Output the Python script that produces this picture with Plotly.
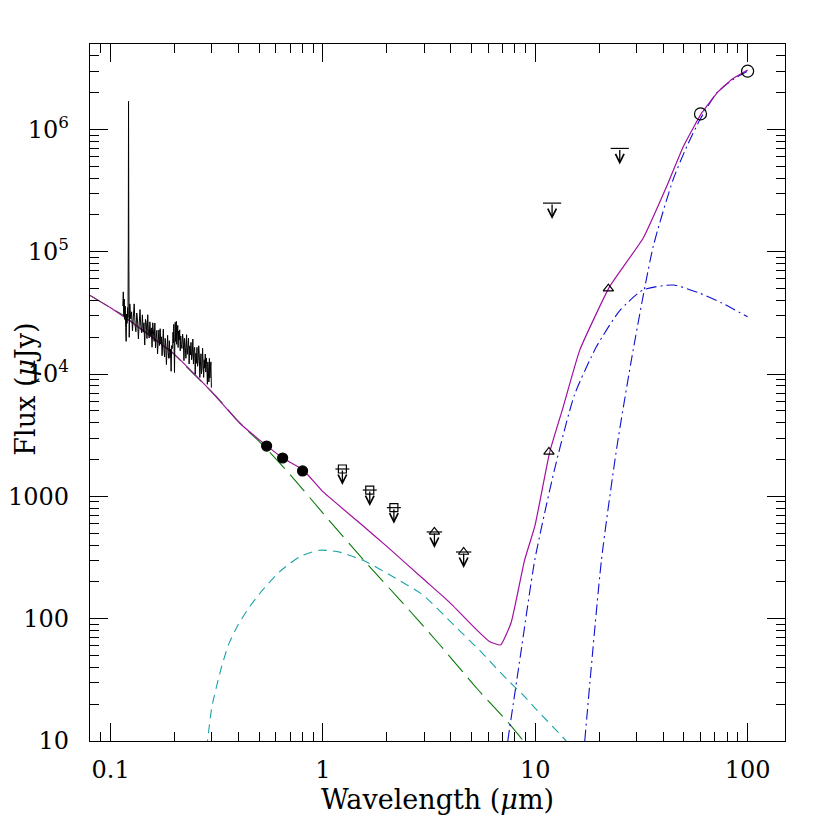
import math

import plotly.graph_objects as go

# observed UV spectrum (micron, microJy)
spec_wave = [
    0.1142, 0.1148, 0.1154, 0.1160, 0.1166, 0.1172, 0.1178, 0.1184, 0.1190, 0.1196,
    0.1202, 0.1208, 0.1212, 0.1215, 0.1219, 0.1224,
    0.1232, 0.1244, 0.1256, 0.1268, 0.1280, 0.1292, 0.1304, 0.1316, 0.1328, 0.1340,
    0.1352, 0.1364, 0.1376, 0.1388, 0.1400, 0.1412, 0.1424,
    0.1436, 0.1448, 0.1460, 0.1472, 0.1484, 0.1496, 0.1508, 0.1520, 0.1532, 0.1544,
    0.1556, 0.1568, 0.1580, 0.1592, 0.1604, 0.1616, 0.1628, 0.1640, 0.1652, 0.1664,
    0.1676, 0.1688, 0.1700, 0.1712, 0.1724, 0.1736, 0.1748, 0.1760, 0.1772, 0.1784,
    0.1796, 0.1808, 0.1820, 0.1832, 0.1844, 0.1856, 0.1868, 0.1880, 0.1892, 0.1904,
    0.1916, 0.1928, 0.1940, 0.1952,
    0.1960, 0.1968, 0.1976, 0.1984, 0.1992, 0.2000, 0.2008, 0.2016, 0.2024, 0.2032,
    0.2040, 0.2048, 0.2056, 0.2064, 0.2072, 0.2080, 0.2092, 0.2104, 0.2116, 0.2128,
    0.2140, 0.2152,
    0.2168, 0.2184, 0.2200, 0.2216, 0.2232, 0.2248, 0.2264, 0.2280, 0.2296, 0.2312,
    0.2328, 0.2344, 0.2360, 0.2376, 0.2392, 0.2408, 0.2424, 0.2440, 0.2456, 0.2472,
    0.2488, 0.2504, 0.2520, 0.2536, 0.2552, 0.2568, 0.2584, 0.2600, 0.2616, 0.2632,
    0.2648, 0.2664, 0.2680, 0.2696, 0.2712, 0.2728, 0.2744, 0.2760, 0.2776, 0.2792,
    0.2808, 0.2824, 0.2840, 0.2856, 0.2872, 0.2888, 0.2904, 0.2920, 0.2936, 0.2952,
    0.2968, 0.2984,
]
spec_flux = [
    36000, 47000, 30000, 41000, 28000, 36000, 24000, 18500, 31000, 26000,
    35000, 29000, 120000, 1700000, 90000, 20000,
    37500, 28200, 32300, 22600, 30100, 37500, 25300, 22200, 31600, 27200,
    19400, 29800, 33700, 24400, 21800, 30500, 22000,
    26250, 17280, 28050, 26500, 19510, 30550, 22050, 19710, 26720, 20570,
    23860, 16580, 26290, 21710, 18500, 26160, 16400, 19640, 22800, 14620,
    20680, 22930, 17140, 23500, 17640, 20170, 14130, 18780, 23320, 15710,
    13790, 19580, 16820, 11960, 18380, 20750, 15050, 13440, 18740, 13580,
    16000, 10540, 17090, 16150,
    16500, 22000, 18000, 25500, 15000, 10300, 19000, 26500, 18500, 24000,
    27000, 17500, 23500, 20500, 25000, 16500, 22500, 19000, 23000, 15500,
    20500, 17500,
    16200, 21180, 18660, 12880, 19630, 16510, 13470, 20980, 14490, 16610,
    19640, 12100, 17010, 14320, 18170, 13100, 14310, 19360, 12080, 16030,
    16560, 9970, 14790, 12260, 16540, 11580, 12660, 17050, 14760, 9380,
    12890, 14650, 10080, 11210, 16260, 12800, 9400, 13110, 11200, 14580,
    10380, 13570, 11950, 8250, 12560, 10570, 8620, 13430, 9280, 10640,
    12580, 7750,
]

# model components
star_wave = [0.08, 0.1, 0.114, 0.15, 0.196, 0.25, 0.319, 0.4, 0.53, 0.7, 1.0, 1.58, 2.31, 3.5, 5.3, 7.5, 8.8, 10.0]
star_flux = [44000, 34800, 30400, 21200, 14900, 9750, 6400, 4100, 2550, 1510, 730, 292, 142, 63, 27, 14, 10, 7.7]

hot_wave = [0.27, 0.286, 0.3, 0.33, 0.36, 0.4, 0.45, 0.503, 0.625, 0.777, 0.965, 1.2, 1.58, 2.14, 2.96,
            4.0, 5.47, 7.4, 8.6, 10.0, 14.0, 15.0]
hot_flux = [5, 10, 19, 38, 62, 90, 124, 160, 242, 321, 363, 350, 295, 220, 156,
            94, 55, 31.6, 24.6, 18.5, 10, 8.7]

warm_wave = [7.42, 8.5, 9.95, 12.3, 15.3, 19.4, 25.0, 32.2, 44.6, 59.6, 75.0, 100.0]
warm_flux = [10, 49, 302, 1640, 6760, 16700, 33000, 48800, 53500, 45800, 38400, 29400]

cold_wave = [17.1, 20.5, 24.2, 28.9, 35.9, 44.6, 51.6, 59.6, 71.4, 85.0, 100.0]
cold_flux = [10, 302, 2500, 15700, 110000, 390000, 720000, 1200000, 1980000, 2550000, 3000000]

total_wave = [0.08, 0.1, 0.15, 0.2, 0.3, 0.406, 0.543, 0.65, 0.807, 1.0, 1.5, 2.0, 3.0, 3.95, 5.3,
              6.09, 6.86, 7.7, 8.9, 9.96, 11.7, 13.5, 16.2, 22.4, 32.2, 41.5, 49.7, 60.7, 72.7, 85.0, 100.0]
total_flux = [44000, 34800, 21200, 14500, 7130, 3960, 2600, 2050, 1645, 1093, 600, 390, 208, 136, 81,
              65, 61, 93, 300, 573, 2310, 5300, 15700, 51900, 129000, 340000, 720000, 1360000, 2040000,
              2600000, 3070000]

# photometry
opt_wave = [0.543, 0.646, 0.802]
opt_flux = [2580, 2060, 1614]
nir_wave = [1.235, 1.662, 2.159]
nir_limit = [1675, 1127, 809]
wise_lim_wave = [3.35, 4.6]
wise_limit = [512, 351]
wise_wave = [11.6, 22.1]
wise_flux = [2310, 50000]
iras_lim_wave = [12.0, 25.0]
iras_limit = [250000, 700000]
iras_wave = [60.0, 100.0]
iras_flux = [1340000, 3000000]

x_ticks = [0.1, 1, 10, 100]
x_ticktext = ['0.1', '1', '10', '100']
y_ticks = [10, 100, 1000, 1e4, 1e5, 1e6]
y_ticktext = ['10', '100', '1000', '10<sup>4</sup>', '10<sup>5</sup>', '10<sup>6</sup>']

FONT = 'DejaVu Serif'
x_minor = [m * 10 ** d for d in range(-2, 3) for m in range(2, 10) if 0.08 <= m * 10 ** d <= 150]
y_minor = [m * 10 ** d for d in range(1, 7) for m in range(2, 10) if m * 10 ** d <= 5e6]

fig = go.Figure()


def add_line(wave, flux, color, dash=None, width=1.1, shape='spline', smoothing=0.6):
    fig.add_trace(go.Scatter(x=wave, y=flux, mode='lines',
                             line=dict(color=color, width=width, dash=dash, shape=shape,
                                       smoothing=smoothing)))


add_line(star_wave, star_flux, '#0a7a0a', dash='22px,8px')
add_line(hot_wave, hot_flux, '#1aa3a8', dash='9px,6px')
add_line(warm_wave, warm_flux, '#1010d0', dash='11px,4px,2px,4px')
add_line(cold_wave, cold_flux, '#1010d0', dash='11px,4px,2px,4px')
add_line(total_wave, total_flux, '#a010a0', width=1.2, smoothing=0.4)
add_line(spec_wave, spec_flux, 'black', width=1.0, shape='linear')


def add_markers(wave, flux, symbol, size):
    marker = dict(symbol=symbol, size=size, color='black', line=dict(color='black', width=1.2))
    fig.add_trace(go.Scatter(x=wave, y=flux, mode='markers', marker=marker))


add_markers(opt_wave, opt_flux, 'circle', 10)
add_markers(nir_wave, nir_limit, 'square-open', 8)
add_markers(nir_wave, nir_limit, 'line-ew', 10)
add_markers(wise_lim_wave, wise_limit, 'triangle-up-open', 9)
add_markers(wise_lim_wave, wise_limit, 'line-ew', 11)
add_markers(iras_lim_wave, iras_limit, 'line-ew', 13)
add_markers(wise_wave, wise_flux, 'triangle-up-open', 9)
add_markers(iras_wave, iras_flux, 'circle-open', 12)

# downward arrows for upper limits
for wave, flux in zip(nir_wave + wise_lim_wave + iras_lim_wave, nir_limit + wise_limit + iras_limit):
    fig.add_annotation(x=math.log10(wave), y=math.log10(flux), xref='x', yref='y', text='',
                       showarrow=True, ax=0, ay=-16, yshift=-16, arrowhead=5, arrowsize=1.3,
                       arrowwidth=1.3, arrowcolor='black', standoff=0, startstandoff=0)

# y title as a rotated annotation so it sits at the far left edge
fig.add_annotation(text='Flux (<i>μ</i>Jy)', xref='paper', yref='paper', x=-0.094, y=0.505,
                   xanchor='center', yanchor='middle', textangle=-90, showarrow=False,
                   font=dict(family=FONT, size=27, color='black'))

axis_common = dict(
    type='log', ticks='inside', ticklen=18, tickwidth=1, tickcolor='black',
    showline=True, linecolor='black', linewidth=1.3, mirror='ticks',
    showgrid=False, zeroline=False, tickmode='array', automargin=False,
    tickfont=dict(family=FONT, size=24, color='black'),
)

# the page body adds an 8px offset, so the figure is 822px with trimmed left/top margins
fig.update_layout(
    width=822, height=822,
    margin=dict(l=82, r=45, t=36, b=89),
    plot_bgcolor='white', paper_bgcolor='white',
    showlegend=False,
    xaxis=dict(axis_common, range=[math.log10(0.08), math.log10(150)],
               tickvals=x_ticks, ticktext=x_ticktext, ticklabelstandoff=7,
               minor=dict(tickmode='array', tickvals=x_minor, ticks='inside', ticklen=9,
                          tickwidth=1, tickcolor='black', showgrid=False),
               title=dict(text='Wavelength (<i>μ</i>m)', standoff=6,
                          font=dict(family=FONT, size=27, color='black'))),
    yaxis=dict(axis_common, range=[1, math.log10(5e6)],
               tickvals=y_ticks, ticktext=y_ticktext, ticklabelstandoff=15,
               minor=dict(tickmode='array', tickvals=y_minor, ticks='inside', ticklen=9,
                          tickwidth=1, tickcolor='black', showgrid=False)),
)

fig.write_html('out.html')
